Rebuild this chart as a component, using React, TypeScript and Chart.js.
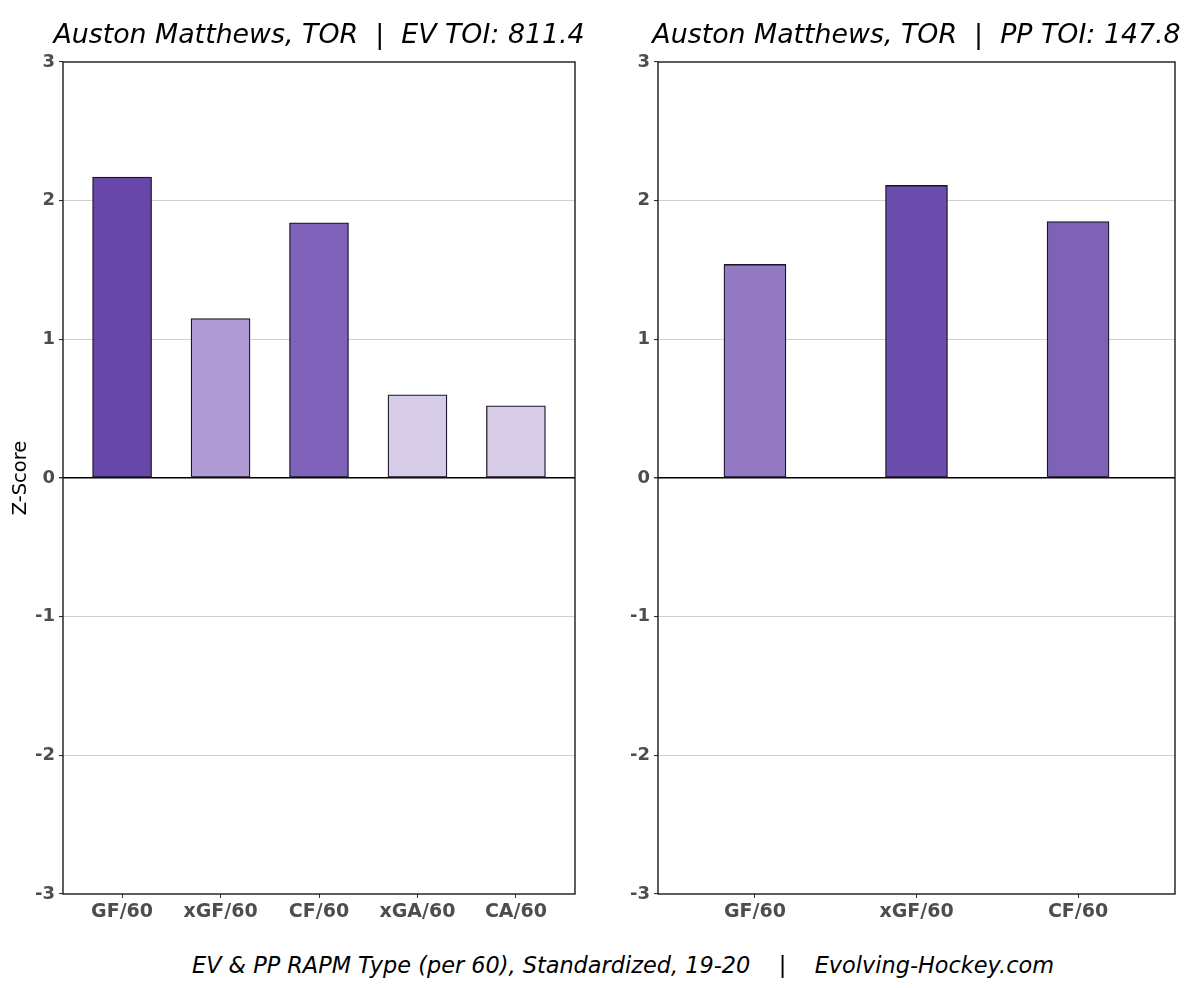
import React, { useEffect, useRef } from "react";
import { Chart, registerables } from "chart.js";

Chart.register(...registerables);

const FONT = "'DejaVu Sans', 'Liberation Sans', sans-serif";

const evCategories = ["GF/60", "xGF/60", "CF/60", "xGA/60", "CA/60"];
const evValues = [2.17, 1.15, 1.84, 0.6, 0.52];
const evColors = ["#6747aa", "#b09bd5", "#7f62b9", "#d7cce8", "#d7cce8"];

const ppCategories = ["GF/60", "xGF/60", "CF/60"];
const ppValues = [1.54, 2.11, 1.85];
const ppColors = ["#937ac3", "#6a4dad", "#7e62b7"];

const yTicks = [-3, -2, -1, 0, 1, 2, 3];

const evTitle = "Auston Matthews, TOR  |  EV TOI: 811.4";
const ppTitle = "Auston Matthews, TOR  |  PP TOI: 147.8";
const yAxisTitle = "Z-Score";
const caption = "EV & PP RAPM Type (per 60), Standardized, 19-20    |    Evolving-Hockey.com";

const boxPlugin = {
  id: "panelBox",
  afterDraw(chart: any) {
    const { ctx, chartArea } = chart;
    ctx.save();
    ctx.strokeStyle = "#1a1a1a";
    ctx.lineWidth = 1.4;
    ctx.strokeRect(
      chartArea.left,
      chartArea.top,
      chartArea.right - chartArea.left,
      chartArea.bottom - chartArea.top
    );
    ctx.restore();
  },
};

// Panel title centred on the plot area (may overflow the plot width, like the original)
const panelTitlePlugin = {
  id: "panelTitle",
  afterDraw(chart: any, _args: any, opts: any) {
    if (!opts || !opts.text) return;
    const { ctx, chartArea } = chart;
    ctx.save();
    ctx.fillStyle = opts.color || "#000";
    ctx.font = `italic normal ${opts.size}px ${FONT}`;
    ctx.textAlign = "center";
    ctx.textBaseline = "middle";
    ctx.fillText(opts.text, (chartArea.left + chartArea.right) / 2, opts.y);
    ctx.restore();
  },
};

type PanelProps = {
  categories: string[];
  values: number[];
  colors: string[];
  title: string;
  yTitle?: string;
  axisWidth: number;
  barThickness: number;
  left: number;
};

function Panel({ categories, values, colors, title, yTitle, axisWidth, barThickness, left }: PanelProps) {
  const ref = useRef<HTMLCanvasElement | null>(null);
  useEffect(() => {
    if (!ref.current) return;
    const chart = new Chart(ref.current, {
      type: "bar",
      data: {
        datasets: [
          {
            data: categories.map((c, i) => ({ x: i + 1, y: values[i] })),
            backgroundColor: colors,
            borderColor: "#1c1528",
            borderWidth: 1.3,
            borderSkipped: false,
            barThickness: barThickness,
          } as any,
        ],
      },
      options: {
        responsive: false,
        animation: false,
        layout: { padding: { left: 0, right: 25, top: 62, bottom: 0 } },
        plugins: {
          legend: { display: false },
          tooltip: { enabled: false },
          title: { display: false },
          panelTitle: { text: title, size: 26.8, y: 36, color: "#000" },
        },
        scales: {
          x: {
            type: "linear",
            offset: false,
            min: 0.4,
            max: categories.length + 0.6,
            afterBuildTicks: (s: any) => {
              s.ticks = categories.map((_, i) => ({ value: i + 1 }));
            },
            afterFit: (s: any) => {
              s.height = 36;
            },
            grid: {
              offset: false,
              drawOnChartArea: false,
              drawTicks: true,
              tickLength: 4,
              tickColor: "#333",
              color: "#333",
            },
            border: { display: false },
            ticks: {
              autoSkip: false,
              maxRotation: 0,
              minRotation: 0,
              padding: 3,
              color: "#4d4d4d",
              font: { family: FONT, size: 19, weight: "bold" },
              callback: (v: any) => categories[Math.round(Number(v)) - 1] ?? "",
            },
          },
          y: {
            type: "linear",
            min: -3,
            max: 3,
            afterBuildTicks: (s: any) => {
              s.ticks = yTicks.map((v) => ({ value: v }));
            },
            afterFit: (s: any) => {
              s.width = axisWidth;
            },
            grid: {
              drawTicks: true,
              tickLength: 4,
              tickColor: "#333",
              color: (ctx: any) => {
                const v = ctx.tick ? ctx.tick.value : null;
                if (v === 0) return "#000";
                if (v === 3 || v === -3) return "rgba(0,0,0,0)";
                return "#d0d0d0";
              },
              lineWidth: (ctx: any) => (ctx.tick && ctx.tick.value === 0 ? 1.4 : 1.1),
            },
            border: { display: false },
            ticks: {
              padding: 4,
              color: "#4d4d4d",
              font: { family: FONT, size: 18, weight: "bold" },
              callback: (v: any) => String(v),
            },
            title: {
              display: !!yTitle,
              text: yTitle || "",
              color: "#000",
              font: { family: FONT, size: 19.5, weight: "normal", lineHeight: 1.2 },
              padding: { top: 9, bottom: 0 },
            },
          },
        },
      } as any,
      plugins: [boxPlugin, panelTitlePlugin],
    });
    return () => chart.destroy();
  }, []);
  return (
    <div style={{ position: "absolute", left, top: 0, width: 600, height: 930 }}>
      <canvas ref={ref} width={600} height={930} style={{ display: "block" }} />
    </div>
  );
}

export default function App() {
  return (
    <div
      style={{
        position: "absolute",
        left: 0,
        top: 0,
        width: 1200,
        height: 988,
        background: "#ffffff",
        overflow: "hidden",
      }}
    >
      <Panel
        categories={evCategories}
        values={evValues}
        colors={evColors}
        title={evTitle}
        yTitle={yAxisTitle}
        axisWidth={63}
        barThickness={59}
        left={0}
      />
      <Panel
        categories={ppCategories}
        values={ppValues}
        colors={ppColors}
        title={ppTitle}
        axisWidth={58}
        barThickness={62}
        left={600}
      />
      <div
        style={{
          position: "absolute",
          left: 0,
          top: 950,
          width: 1246,
          textAlign: "center",
          fontFamily: FONT,
          fontStyle: "italic",
          fontSize: 22.4,
          lineHeight: "30px",
          color: "#000",
          whiteSpace: "pre",
        }}
      >
        {caption}
      </div>
    </div>
  );
}
